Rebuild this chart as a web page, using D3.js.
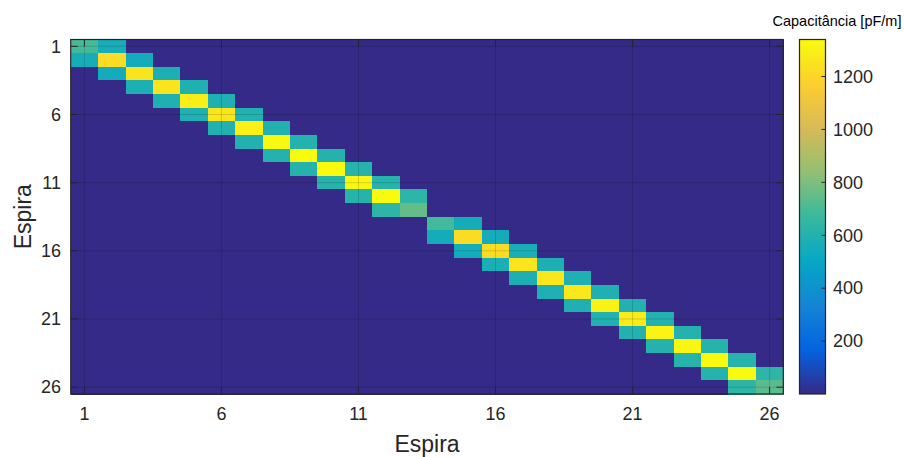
<!DOCTYPE html>
<html>
<head>
  <meta charset="utf-8">
  <title>Capacitância entre espiras</title>
  <script src="https://d3js.org/d3.v7.min.js"></script>
  <style>
    body, html {
      margin: 0;
      padding: 0;
      background: #fff;
    }
    svg {
      display: block;
      font-family: "Liberation Sans", Arial, sans-serif;
    }
    .tick-label {
      font-size: 18px;
      fill: #262626;
    }
    .axis-title {
      font-size: 23px;
      fill: #262626;
    }
  </style>
</head>
<body>
<svg width="904" height="457"></svg>
<script>
  // Turn numbers (1..26) used for both axes
  const turns = d3.range(1, 27);
  const axisTicks = [1, 6, 11, 16, 21, 26];
  const colorTicks = [200, 400, 600, 800, 1000, 1200];

  // Self capacitance of each turn (diagonal), pF/m
  const diagValues = [
    695, 1225, 1255, 1255, 1290, 1260, 1295, 1330, 1338, 1338, 1320, 1340, 755,
    690, 1225, 1225, 1255, 1260, 1265, 1305, 1285, 1310, 1320, 1335, 1335, 735
  ];
  // Mutual capacitance between turn i and turn i+1, pF/m (13-14 are not coupled)
  const neighbourValues = [
    560, 550, 576, 586, 589, 595, 600, 603, 608, 610, 610, 633,
    0,
    553, 550, 570, 580, 583, 589, 595, 600, 605, 610, 610, 632
  ];

  // Parula colormap stops
  const parulaStops = ["#352a87", "#0363e1", "#1485d4", "#06a7c6", "#38b99e",
                       "#92bf73", "#d9ba56", "#fcce2e", "#f9fb0e"];

  // Build the full symmetric matrix from the two arrays
  const cells = [];
  turns.forEach(r => {
    turns.forEach(c => {
      let v = 0;
      if (r === c) v = diagValues[r - 1];
      else if (c === r + 1) v = neighbourValues[r - 1];
      else if (r === c + 1) v = neighbourValues[c - 1];
      cells.push({ row: r, col: c, value: v });
    });
  });

  const svg = d3.select("svg");

  // Plot area
  const pLeft = 70.7, pRight = 783.3, pTop = 39.5, pBottom = 394;

  const x = d3.scaleBand().domain(turns).range([pLeft, pRight]).padding(0);
  const y = d3.scaleBand().domain(turns).range([pTop, pBottom]).padding(0);

  const cMin = 0, cMax = 1340;
  const color = d3.scaleLinear()
    .domain(parulaStops.map((d, i) => cMin + (cMax - cMin) * i / (parulaStops.length - 1)))
    .range(parulaStops)
    .interpolate(d3.interpolateRgb)
    .clamp(true);

  // Heatmap cells
  svg.append("g")
    .attr("shape-rendering", "crispEdges")
    .selectAll("rect")
    .data(cells)
    .enter()
    .append("rect")
    .attr("x", d => x(d.col))
    .attr("y", d => y(d.row))
    .attr("width", x.bandwidth() + 0.5)
    .attr("height", y.bandwidth() + 0.5)
    .attr("fill", d => color(d.value));

  const cx = d => x(d) + x.bandwidth() / 2;
  const cy = d => y(d) + y.bandwidth() / 2;

  // Grid lines over the image
  const grid = svg.append("g")
    .attr("stroke", "#000")
    .attr("stroke-opacity", 0.15)
    .attr("stroke-width", 1);
  axisTicks.forEach(t => {
    grid.append("line")
      .attr("x1", cx(t)).attr("x2", cx(t))
      .attr("y1", pTop).attr("y2", pBottom);
    grid.append("line")
      .attr("x1", pLeft).attr("x2", pRight)
      .attr("y1", cy(t)).attr("y2", cy(t));
  });

  // Tick marks on all four sides (pointing inward)
  const tickLen = 7;
  const ticks = svg.append("g").attr("stroke", "#262626").attr("stroke-width", 1);
  axisTicks.forEach(t => {
    ticks.append("line").attr("x1", cx(t)).attr("x2", cx(t)).attr("y1", pBottom).attr("y2", pBottom - tickLen);
    ticks.append("line").attr("x1", cx(t)).attr("x2", cx(t)).attr("y1", pTop).attr("y2", pTop + tickLen);
    ticks.append("line").attr("x1", pLeft).attr("x2", pLeft + tickLen).attr("y1", cy(t)).attr("y2", cy(t));
    ticks.append("line").attr("x1", pRight).attr("x2", pRight - tickLen).attr("y1", cy(t)).attr("y2", cy(t));
  });

  // Axes box
  svg.append("rect")
    .attr("x", pLeft).attr("y", pTop)
    .attr("width", pRight - pLeft).attr("height", pBottom - pTop)
    .attr("fill", "none")
    .attr("stroke", "#262626")
    .attr("stroke-width", 1.2);

  // Tick labels
  svg.append("g")
    .selectAll("text")
    .data(axisTicks)
    .enter()
    .append("text")
    .attr("class", "tick-label")
    .attr("x", d => cx(d))
    .attr("y", 420)
    .attr("text-anchor", "middle")
    .text(d => d);

  svg.append("g")
    .selectAll("text")
    .data(axisTicks)
    .enter()
    .append("text")
    .attr("class", "tick-label")
    .attr("x", 61)
    .attr("y", d => cy(d))
    .attr("dy", "0.35em")
    .attr("text-anchor", "end")
    .text(d => d);

  // Axis titles
  svg.append("text")
    .attr("class", "axis-title")
    .attr("x", (pLeft + pRight) / 2)
    .attr("y", 452)
    .attr("text-anchor", "middle")
    .text("Espira");

  svg.append("text")
    .attr("class", "axis-title")
    .attr("transform", `translate(31,${(pTop + pBottom) / 2}) rotate(-90)`)
    .attr("text-anchor", "middle")
    .text("Espira");

  // Colorbar
  const cbLeft = 799.5, cbWidth = 26;
  const cbScale = d3.scaleLinear().domain([cMin, cMax]).range([pBottom, pTop]);

  const grad = svg.append("defs").append("linearGradient")
    .attr("id", "parula")
    .attr("x1", 0).attr("y1", 1).attr("x2", 0).attr("y2", 0);
  d3.range(0, 1.0001, 0.02).forEach(t => {
    grad.append("stop")
      .attr("offset", t)
      .attr("stop-color", color(cMin + t * (cMax - cMin)));
  });

  svg.append("rect")
    .attr("x", cbLeft).attr("y", pTop)
    .attr("width", cbWidth).attr("height", pBottom - pTop)
    .attr("fill", "url(#parula)")
    .attr("stroke", "#262626")
    .attr("stroke-width", 1.2);

  const cbTicks = svg.append("g");
  cbTicks.selectAll("line")
    .data(colorTicks)
    .enter()
    .append("line")
    .attr("x1", cbLeft + cbWidth - 4).attr("x2", cbLeft + cbWidth)
    .attr("y1", d => cbScale(d)).attr("y2", d => cbScale(d))
    .attr("stroke", "#262626");
  cbTicks.selectAll("text")
    .data(colorTicks)
    .enter()
    .append("text")
    .attr("class", "tick-label")
    .attr("x", 833)
    .attr("y", d => cbScale(d))
    .attr("dy", "0.35em")
    .text(d => d);

  svg.append("text")
    .attr("x", 837)
    .attr("y", 26)
    .attr("text-anchor", "middle")
    .attr("font-size", "14.5px")
    .attr("fill", "#000")
    .text("Capacitância [pF/m]");
</script>
</body>
</html>
